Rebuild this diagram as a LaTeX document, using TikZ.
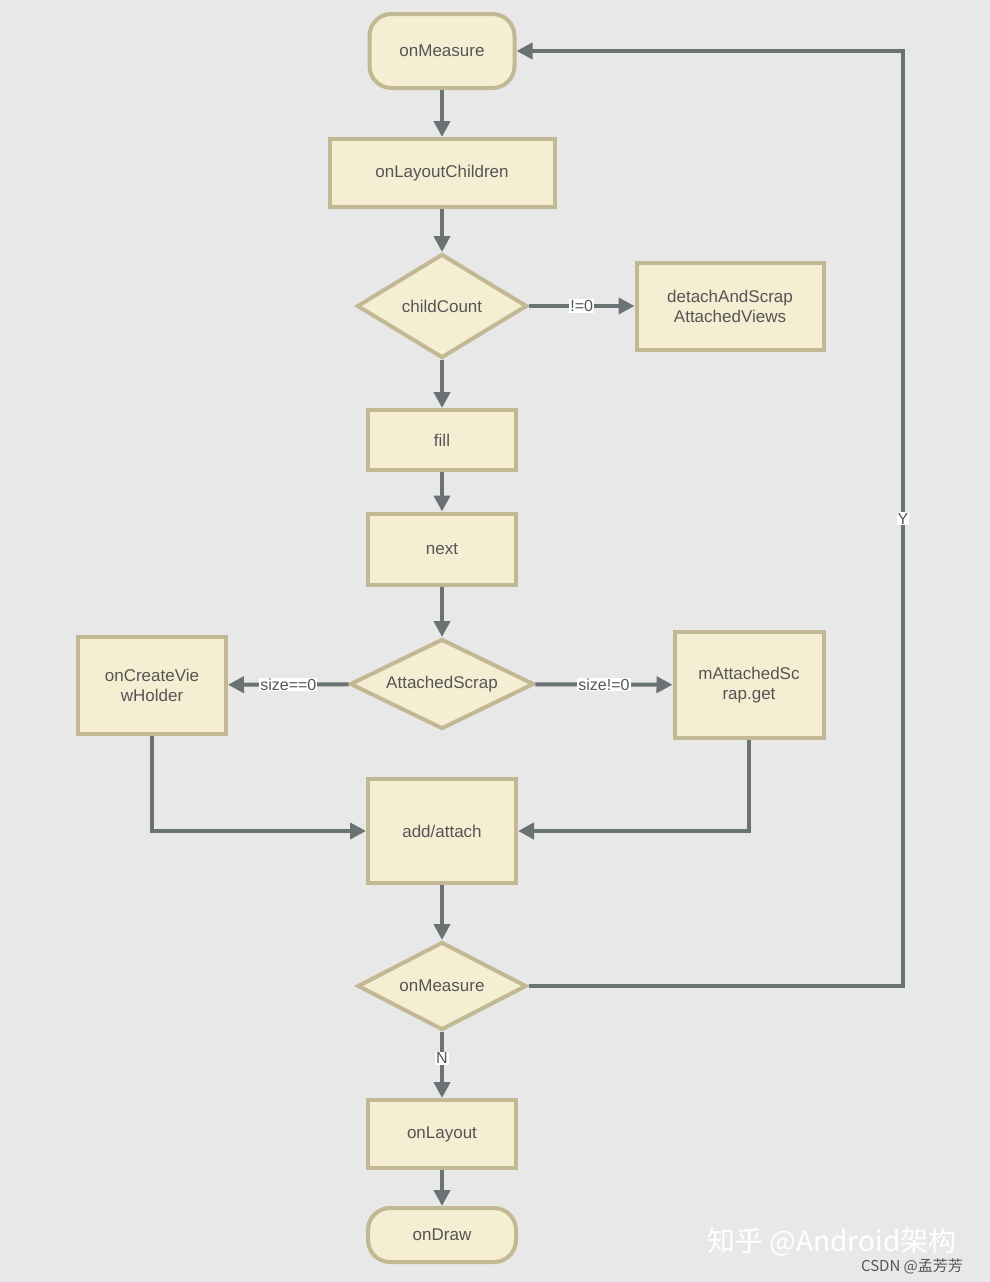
\documentclass[tikz,border=0pt]{standalone}
\usepackage{fontspec}
\setmainfont{Liberation Sans}
\newfontfamily\cjk{Noto Sans CJK SC}
\usetikzlibrary{shapes.geometric,arrows.meta}
\definecolor{bg}{HTML}{E8E8E8}
\definecolor{nfill}{HTML}{F5EED2}
\definecolor{nbord}{HTML}{C3B894}
\definecolor{arr}{HTML}{6A7373}
\definecolor{txt}{HTML}{555555}
\begin{document}
\begin{tikzpicture}[x=1pt,y=-1pt,
  base/.style={fill=nfill,draw=nbord,line width=4pt,text=txt,font=\fontsize{17}{20}\selectfont,align=center,inner sep=0pt},
  box/.style={base,rectangle,minimum width=#1},
  term/.style={base,rounded corners=22pt},
  dia/.style={base,diamond,aspect=1.7},
  ar/.style={draw=arr,line width=4pt,-{Triangle[length=16pt,width=16pt]}},
  lab/.style={fill=white,text=txt,font=\fontsize{16}{18}\selectfont,inner sep=1pt}]
\fill[bg] (0,0) rectangle (990,1282);
\useasboundingbox (0,0) rectangle (990,1282);
\node[term,minimum width=145pt,minimum height=74pt] (m1) at (442,51) {onMeasure};
\node[box=225pt,minimum height=68pt] (lc) at (442,173) {onLayoutChildren};
\node[dia,minimum width=170pt,minimum height=104pt] (cc) at (442,306) {childCount};
\node[box=187pt,minimum height=87pt] (ds) at (730,306) {detachAndScrap\\AttachedViews};
\node[box=148pt,minimum height=60pt] (fill) at (442,440) {fill};
\node[box=148pt,minimum height=71pt] (nx) at (442,549) {next};
\node[dia,minimum width=184pt,minimum height=90pt,aspect=2] (as) at (442,684) {AttachedScrap};
\node[box=148pt,minimum height=97pt] (cv) at (152,685) {onCreateVie\\wHolder};
\node[box=149pt,minimum height=106pt] (mg) at (749,685) {mAttachedSc\\rap.get};
\node[box=148pt,minimum height=104pt] (aa) at (442,831) {add/attach};
\node[dia,minimum width=169pt,minimum height=88pt,aspect=1.9] (m2) at (442,986) {onMeasure};
\node[box=148pt,minimum height=68pt] (ly) at (442,1134) {onLayout};
\node[term,minimum width=148pt,minimum height=54pt] (dr) at (442,1235) {onDraw};
\coordinate (c1) at (903,986);
\coordinate (c2) at (903,51);
\coordinate (c3) at (152,831);
\coordinate (c4) at (749,831);
\draw[ar] (m1) -- (lc);
\draw[ar] (lc) -- (cc);
\draw[ar] (cc) -- node[lab]{!=0} (ds);
\draw[ar] (cc) -- (fill);
\draw[ar] (fill) -- (nx);
\draw[ar] (nx) -- (as);
\draw[ar] (as) -- node[lab,pos=0.5]{size==0} (cv);
\draw[ar] (as) -- node[lab,pos=0.5]{size!=0} (mg);
\draw[ar] (cv) -- (c3) -- (aa);
\draw[ar] (mg) -- (c4) -- (aa);
\draw[ar] (aa) -- (m2);
\draw[ar] (m2) -- node[lab,pos=0.4]{N} (ly);
\draw[ar] (ly) -- (dr);
\draw[ar] (m2.east) -- (c1) -- node[lab,pos=0.5]{Y} (c2) -- (m1.east);
\node[text=white,font=\cjk\fontsize{28}{30}\selectfont] (wm) at (832,1242) {知乎 @Android架构};
\node[text=txt,font=\cjk\fontsize{15}{17}\selectfont] (wm2) at (912,1266) {CSDN @孟芳芳};
\end{tikzpicture}
\end{document}
